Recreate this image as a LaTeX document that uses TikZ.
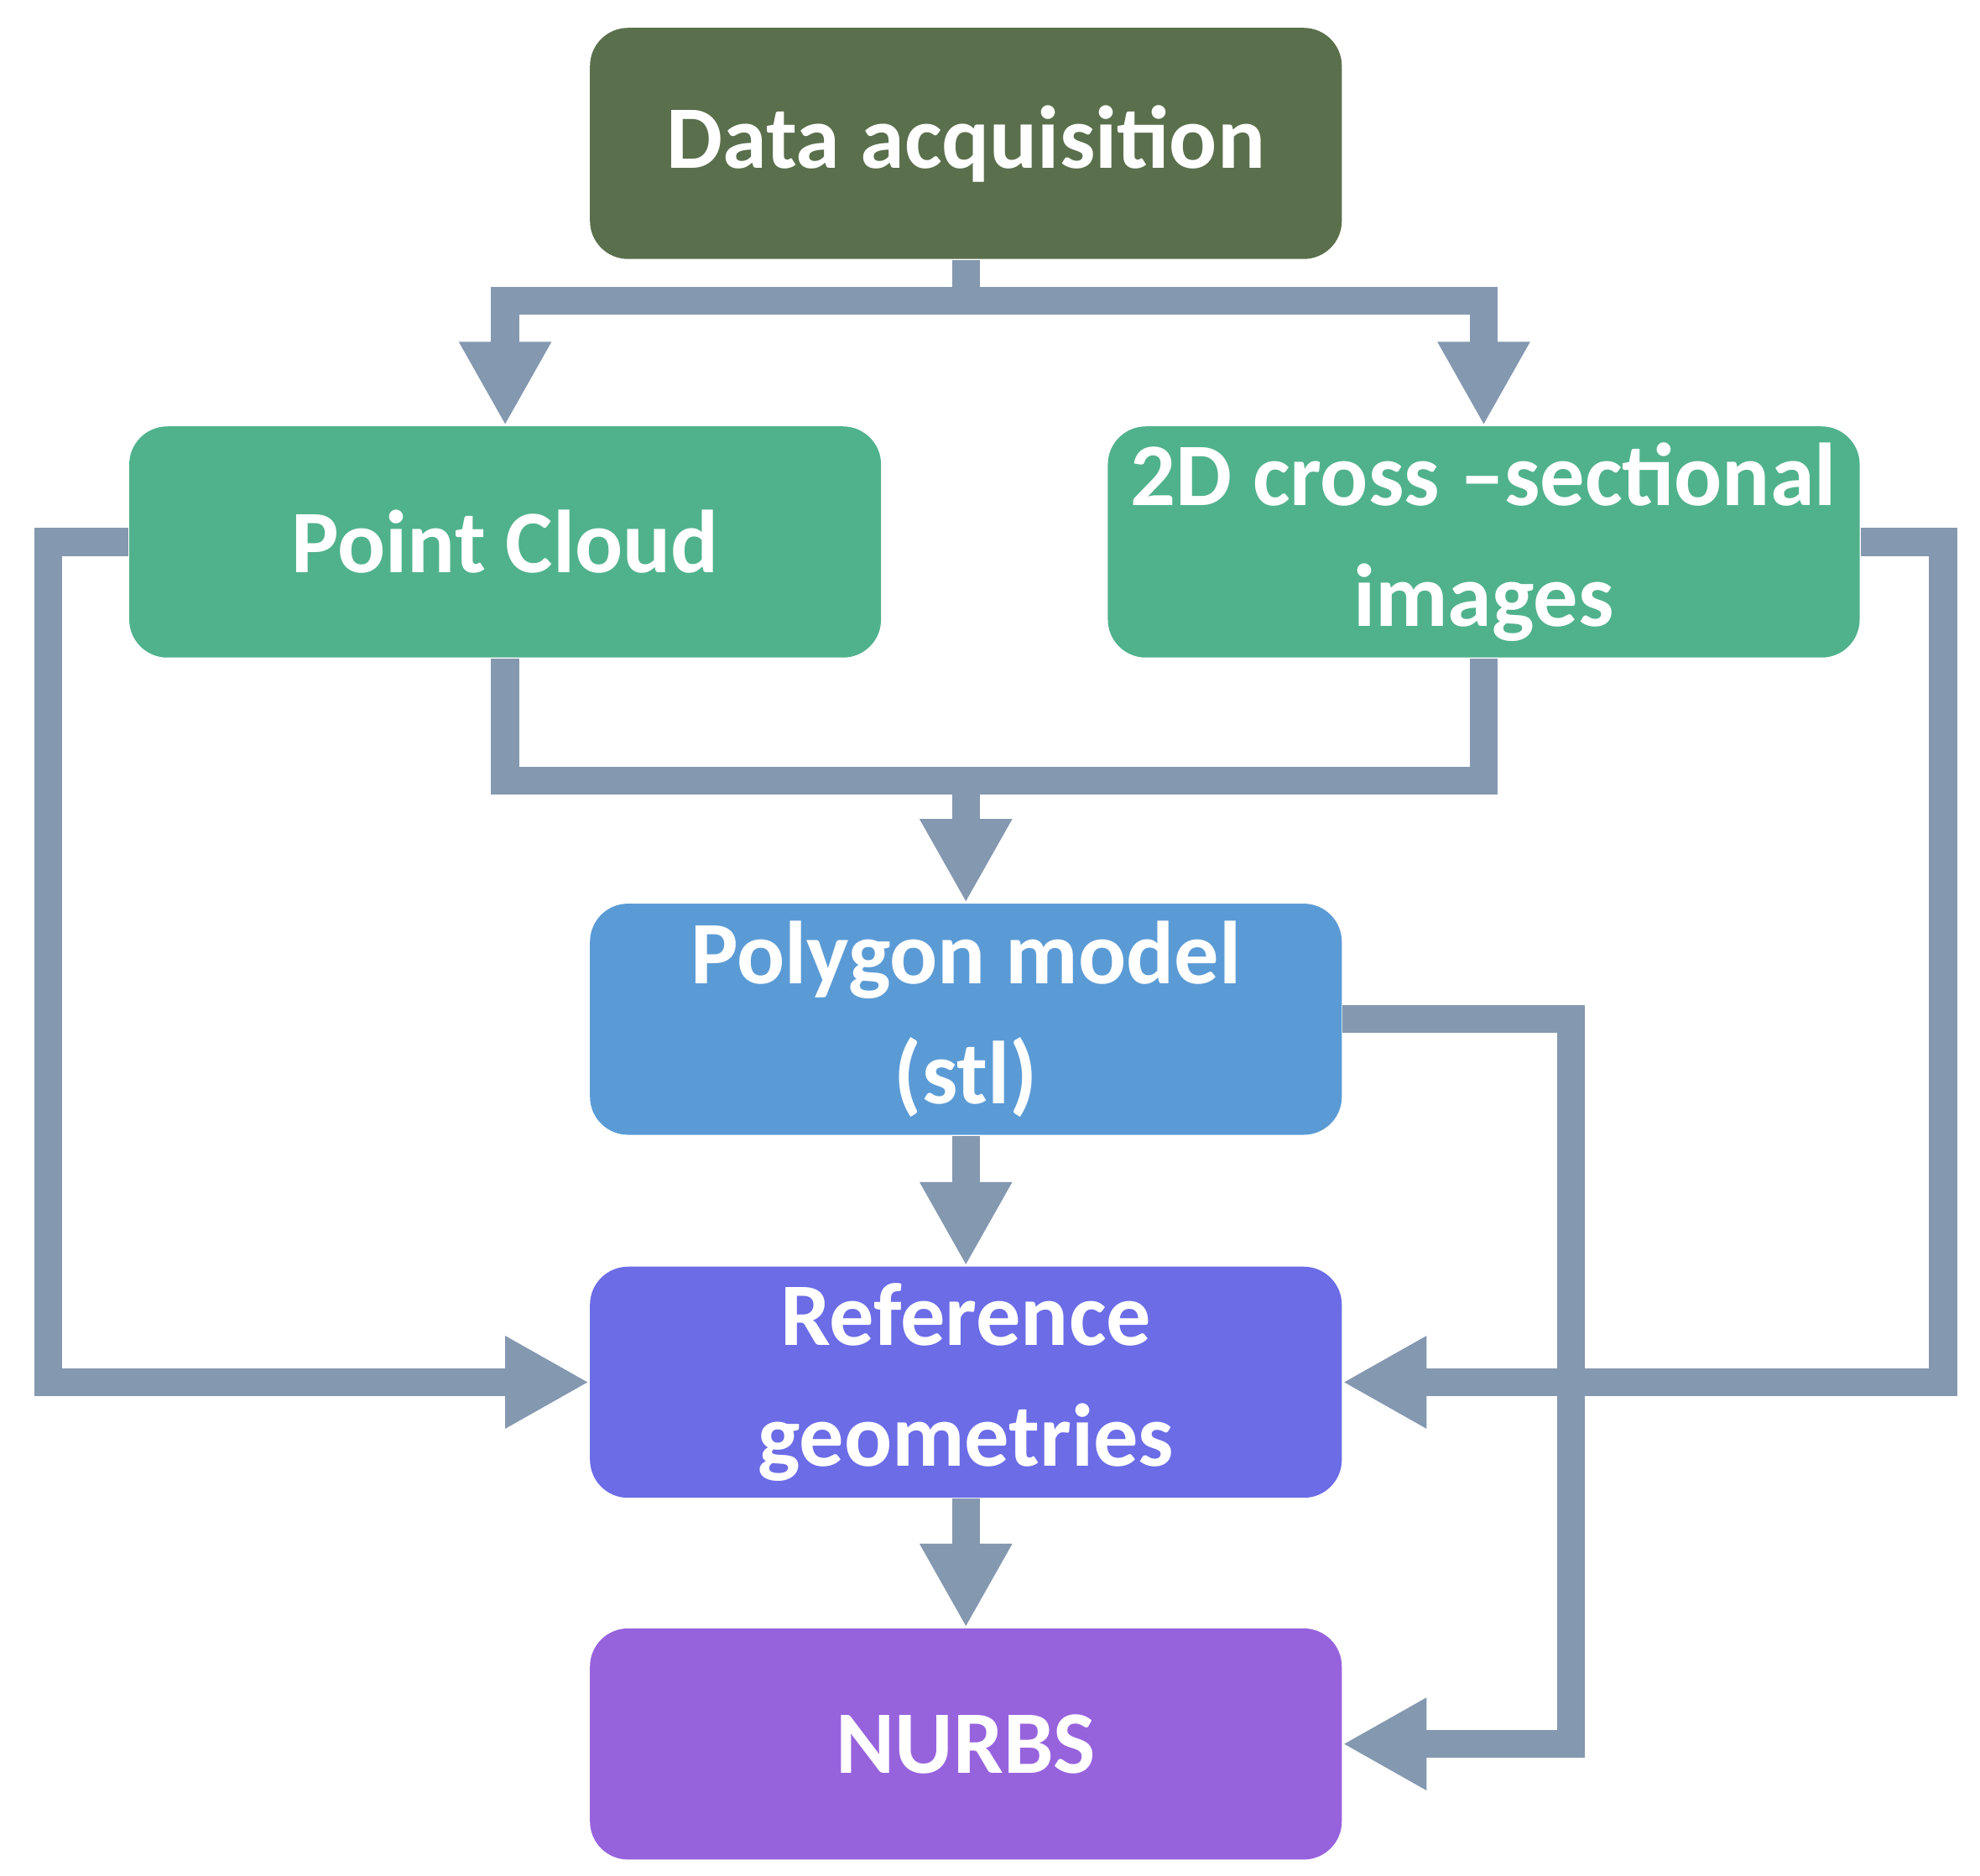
\documentclass[tikz,border=0pt]{standalone}
\usepackage{fontspec}
\setmainfont{Carlito}
\usetikzlibrary{arrows.meta}
\definecolor{acqgreen}{HTML}{5A704C}
\definecolor{pcteal}{HTML}{50B28C}
\definecolor{polyblue}{HTML}{5B9BD5}
\definecolor{refblue}{HTML}{6B6CE6}
\definecolor{nurbsviolet}{HTML}{9763DD}
\definecolor{flowgray}{HTML}{8498B0}

\begin{document}
\begin{tikzpicture}[x=0.01cm,y=-0.01cm,
    box/.style={rounded corners=0.3cm, minimum width=5.92cm, minimum height=1.82cm,
        text=white, align=center, font=\bfseries\fontsize{20}{27}\selectfont},
    flow/.style={draw=flowgray, line width=0.22cm, line join=miter,
        -{Triangle[length=0.66cm,width=0.68cm]}}]
    \useasboundingbox (0,0) rectangle (1560,1478);
    % Boxes
    \node[box, fill=acqgreen] (data) at (761,113) {Data acquisition};
    \node[box, fill=pcteal] (pc) at (398,427) {Point Cloud};
    \node[box, fill=pcteal] (cross) at (1169,427) {2D cross --sectional\\images};
    \node[box, fill=polyblue] (poly) at (761,803) {Polygon model\\(stl)};
    \node[box, fill=refblue] (ref) at (761,1089) {Reference\\geometries};
    \node[box, fill=nurbsviolet] (nurbs) at (761,1374) {NURBS};

    % split from data acquisition
    \draw[flow] (data.south) -- ++(0,32) -| (pc.north);
    \draw[flow] (data.south) -- ++(0,32) -| (cross.north);
    % merge into polygon model
    \coordinate (merge) at (761,615);
    \draw[flow,-] (pc.south) |- (merge) -| (cross.south);
    \draw[flow] (merge) -- (poly.north);
    % main column
    \draw[flow] (poly.south) -- (ref.north);
    \draw[flow] (ref.south) -- (nurbs.north);
    % side loops
    \draw[flow] (pc.west) -- ++(-63,0) |- (ref.west);
    \draw[flow] (cross.east) -- ++(65,0) |- (ref.east);
    \draw[flow] (poly.east) -- ++(180,0) |- (nurbs.east);
\end{tikzpicture}
\end{document}
